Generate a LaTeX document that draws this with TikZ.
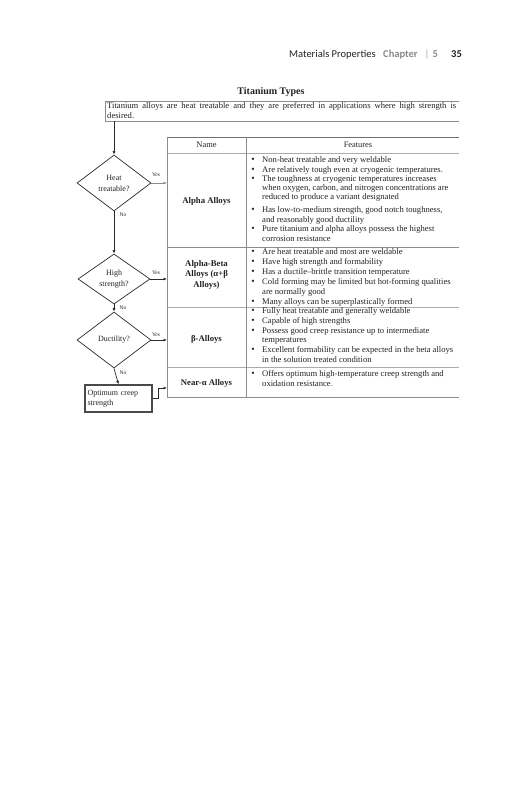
\documentclass[tikz,border=0pt]{standalone}
\usepackage{fontspec}
\setmainfont{Liberation Serif}
\newfontfamily\hdrfont{Carlito}
\usetikzlibrary{arrows.meta,shapes.geometric}
\definecolor{txt}{HTML}{222222}
\definecolor{chapgray}{HTML}{8A8A8A}
\definecolor{linedark}{HTML}{707070}
\definecolor{linemid}{HTML}{8C8C8C}
\definecolor{linelight}{HTML}{ABABAB}
\definecolor{arrdark}{HTML}{2A2A2A}
\begin{document}
\begin{tikzpicture}[x=1pt,y=-1pt,
  every node/.style={text=txt},
  hdr/.style={anchor=base west,inner sep=0,font=\hdrfont\fontsize{10.5}{12}\selectfont},
  feat/.style={anchor=base west,inner sep=0,font=\fontsize{8.6}{9.5}\selectfont},
  bul/.style={anchor=base,inner sep=0,font=\fontsize{9.6}{9.5}\selectfont},
  aname/.style={inner sep=0,align=center,font=\bfseries\fontsize{8.7}{10.5}\selectfont},
  colhead/.style={inner sep=0,font=\fontsize{8.4}{10}\selectfont},
  dia/.style={diamond,draw=arrdark,line width=0.7pt,inner sep=0,align=center,font=\fontsize{8}{11}\selectfont},
  yn/.style={inner sep=0,font=\fontsize{5.5}{6}\selectfont},
  arr/.style={draw=arrdark,line width=0.7pt,-{Latex[length=3.5pt,width=3pt]}},
  tline/.style={line width=0.8pt}
]
\useasboundingbox (0,0) rectangle (531,800);

% page header
\node[hdr] (hmat) at (289,58) {Materials Properties};
\node[hdr,text=chapgray,font=\hdrfont\bfseries\fontsize{10.5}{12}\selectfont] (hchap) at (383,58) {Chapter};
\node[hdr,text=linelight] (hbar) at (424.5,58) {|};
\node[hdr,text=chapgray,font=\hdrfont\bfseries\fontsize{10.5}{12}\selectfont] (hnum) at (432.5,58) {5};
\node[hdr,font=\hdrfont\bfseries\fontsize{10.5}{12}\selectfont] (hpage) at (451,58) {35};

% title and description
\node[font=\bfseries\fontsize{10}{12}\selectfont,inner sep=0] (title) at (271,92.5) {Titanium Types};
\node[anchor=north west,inner sep=0,minimum width=354pt,minimum height=20pt] (descbox) at (105,101) {};
\draw[linemid,line width=0.8pt] (descbox.north east) -| (descbox.south west) -- (descbox.south east);
\node[anchor=north west,text width=349pt,align=justify,inner sep=0,font=\fontsize{8.6}{10}\selectfont] (desctext) at (107,102)
  {Titanium alloys are heat treatable and they are preferred in applications where high strength is\linebreak desired.};

% table frame
\coordinate (tl) at (167,137);
\coordinate (tr) at (459,137);
\coordinate (cdiv) at (246,137);
\draw[tline,linedark] (tl) -- (tr);
\draw[tline,linelight] (167,153) -- (459,153);
\draw[tline,linemid] (167,247) -- (459,247);
\draw[tline,linelight] (167,307) -- (459,307);
\draw[tline,linelight] (167,367) -- (459,367);
\draw[tline,linemid] (167,397) -- (459,397);
\draw[tline,linemid] (tl) -- (167,397);
\draw[tline,linemid] (cdiv) -- (246,397);

\node[colhead] (hname) at (206.5,145) {Name};
\node[colhead] (hfeat) at (358,145) {Features};

% names
\node[aname] (nalpha) at (206.5,201) {Alpha Alloys};
\node[aname] (nab) at (206.5,274.5) {Alpha-Beta\\Alloys (α+β\\Alloys)};
\node[aname] (nbeta) at (206.5,339) {β-Alloys};
\node[aname] (nnear) at (206.5,383) {Near-α Alloys};

% features: alpha
\node[bul] (b1) at (253,162.6) {•};
\node[feat] (f1) at (262,162.6) {Non-heat treatable and very weldable};
\node[bul] (b2) at (253,172) {•};
\node[feat] (f2) at (262,172) {Are relatively tough even at cryogenic temperatures.};
\node[bul] (b3) at (253,181.2) {•};
\node[feat] (f3) at (262,181.2) {The toughness at cryogenic temperatures increases};
\node[feat] (f3b) at (262,190.4) {when oxygen, carbon, and nitrogen concentrations are};
\node[feat] (f3c) at (262,199.6) {reduced to produce a variant designated};
\node[bul] (b4) at (253,212.6) {•};
\node[feat] (f4) at (262,212.6) {Has low-to-medium strength, good notch toughness,};
\node[feat] (f4b) at (262,222) {and reasonably good ductility};
\node[bul] (b5) at (253,231.6) {•};
\node[feat] (f5) at (262,231.6) {Pure titanium and alpha alloys possess the highest};
\node[feat] (f5b) at (262,241) {corrosion resistance};

% features: alpha-beta
\node[bul] (b6) at (253,254.6) {•};
\node[feat] (f6) at (262,254.6) {Are heat treatable and most are weldable};
\node[bul] (b7) at (253,264.3) {•};
\node[feat] (f7) at (262,264.3) {Have high strength and formability};
\node[bul] (b8) at (253,274.3) {•};
\node[feat] (f8) at (262,274.3) {Has a ductile–brittle transition temperature};
\node[bul] (b9) at (253,284.3) {•};
\node[feat] (f9) at (262,284.3) {Cold forming may be limited but hot-forming qualities};
\node[feat] (f9b) at (262,294) {are normally good};
\node[bul] (b10) at (253,304) {•};
\node[feat] (f10) at (262,304) {Many alloys can be superplastically formed};

% features: beta
\node[bul] (b11) at (253,313.6) {•};
\node[feat] (f11) at (262,313.6) {Fully heat treatable and generally weldable};
\node[bul] (b12) at (253,323.6) {•};
\node[feat] (f12) at (262,323.6) {Capable of high strengths};
\node[bul] (b13) at (253,333.3) {•};
\node[feat] (f13) at (262,333.3) {Possess good creep resistance up to intermediate};
\node[feat] (f13b) at (262,342.6) {temperatures};
\node[bul] (b14) at (253,352.6) {•};
\node[feat] (f14) at (262,352.6) {Excellent formability can be expected in the beta alloys};
\node[feat] (f14b) at (262,362) {in the solution treated condition};

% features: near-alpha
\node[bul] (b15) at (253,376.6) {•};
\node[feat] (f15) at (262,376.6) {Offers optimum high-temperature creep strength and};
\node[feat] (f15b) at (262,386) {oxidation resistance.};

% flowchart
\node[dia,minimum width=74pt,minimum height=56pt] (d1) at (114,183) {Heat\\treatable?};
\node[dia,minimum width=72pt,minimum height=50pt] (d2) at (114,279) {High\\strength?};
\node[dia,minimum width=74pt,minimum height=56pt] (d3) at (114,340) {Ductility?};
\node[draw=arrdark!85,line width=1.3pt,minimum width=67pt,minimum height=27pt,inner sep=2pt,
  text width=62pt,align=left,font=\fontsize{8}{10}\selectfont] (opt) at (118.5,398.5) {Optimum creep\\strength};

\coordinate (tleft) at (167,0);
\coordinate (nearin) at (167,388);

\draw[arr] (descbox.south west -| d1.north) -- (d1.north);
\draw[arr,draw=linemid] (d1.east) -- (d1.east -| tleft);
\draw[arr] (d2.east) -- (d2.east -| tleft);
\draw[arr] (d3.east) -- (d3.east -| tleft);
\draw[arr] (d1.south) -- (d2.north);
\draw[arr] (d2.south) -- (d3.north);
\draw[arr] (d3.south) -- (opt.north);
\draw[arr] (opt.east) -- ++(6,0) |- (nearin);

\node[yn] (y1) at (156,174.5) {Yes};
\node[yn] (y2) at (156,273) {Yes};
\node[yn] (y3) at (156,335) {Yes};
\node[yn] (no1) at (123,215) {No};
\node[yn] (no2) at (123,307.5) {No};
\node[yn] (no3) at (123,373) {No};
\end{tikzpicture}
\end{document}
